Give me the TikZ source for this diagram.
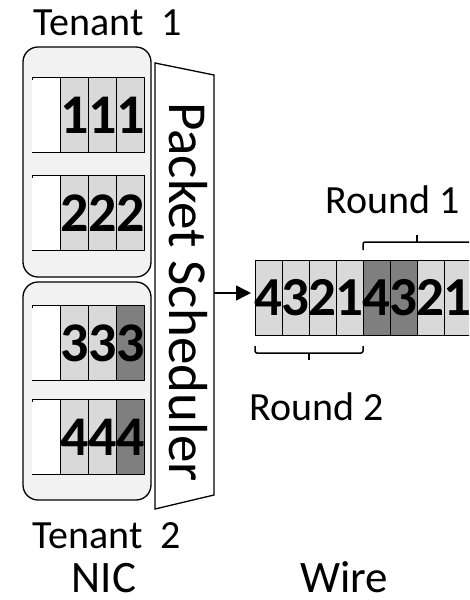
\documentclass[tikz,border=0pt]{standalone}
\usepackage{fontspec}
\setmainfont{Carlito}
\usetikzlibrary{arrows.meta}
\definecolor{tenantbg}{HTML}{F2F2F2}
\definecolor{pktlight}{HTML}{D9D9D9}
\definecolor{pktdark}{HTML}{7F7F7F}
\begin{document}
\begin{tikzpicture}[x=1pt,y=-1pt,line width=1.3pt,
  tenant/.style={draw,fill=tenantbg,rounded corners=15pt},
  qcell/.style={draw,line width=0.8pt,minimum width=28pt,minimum height=75pt,
    inner sep=0pt,anchor=north west},
  wcell/.style={draw,line width=0.8pt,minimum width=27pt,minimum height=75pt,
    inner sep=0pt,anchor=north west},
  qdigit/.style={inner sep=0pt,font=\fontsize{56}{56}\selectfont\bfseries},
  wdigit/.style={inner sep=0pt,font=\fontsize{55}{55}\selectfont\bfseries},
  lbl/.style={inner sep=0pt,font=\fontsize{40}{48}\selectfont},
  biglbl/.style={inner sep=0pt,font=\fontsize{45}{54}\selectfont},
  brace/.style={line width=1.5pt,rounded corners=2pt}]
\useasboundingbox (0,0) rectangle (469,600);
\clip (0,0) rectangle (469,600);

% tenant groups
\draw[tenant] (23,47) rectangle (151,277);
\draw[tenant] (23,282) rectangle (151,500);
\node[lbl,anchor=base west] (t1) at (33,35) {Tenant\ \ 1};
\node[lbl,anchor=base west] (t2) at (32,548) {Tenant\ \ 2};

% per-tenant queues: open white tail on the left, packets on the right
\foreach \q/\y/\d/\lastfill in {1/77/1/pktlight,2/175/2/pktlight,3/305/3/pktdark,4/399/4/pktdark}{
  \fill[white] (32,\y) rectangle (60,\y+75);
  \draw[line width=0.8pt] (32,\y+3) -- (32,\y) -- (60,\y);
  \draw[line width=0.8pt] (32,\y+75) -- (60,\y+75);
  \node[qcell,fill=pktlight,label={[qdigit]center:\d}] (q\q a) at (60,\y) {};
  \node[qcell,fill=pktlight,label={[qdigit]center:\d}] (q\q b) at (88,\y) {};
  \node[qcell,fill=\lastfill,label={[qdigit]center:\d}] (q\q c) at (116,\y) {};
}

% packet scheduler
\coordinate (sTL) at (155,63);
\coordinate (sTR) at (214,75);
\coordinate (sBR) at (214,495);
\coordinate (sBL) at (155,509);
\draw (sTL) -- (sTR) -- (sBR) -- (sBL) -- cycle;
\node[inner sep=0pt,rotate=-90,anchor=base,font=\fontsize{55}{55}\selectfont]
  (sched) at (169,292) {Packet Scheduler};
\coordinate (schedOut) at (214,293);

% packets on the wire (newest on the left)
\foreach \i/\x/\d/\c in {1/255/4/pktlight,2/282/3/pktlight,3/309/2/pktlight,4/336/1/pktlight,
                          5/363/4/pktdark,6/390/3/pktdark,7/417/2/pktlight,8/444/1/pktlight}{
  \node[wcell,fill=\c] (w\i) at (\x,260) {};
}
\foreach \i/\d in {1/4,2/3,3/2,4/1,5/4,6/3,7/2,8/1}{
  \node[wdigit] (d\i) at (w\i.center) {\d};
}

\draw[line width=1.5pt,-{Triangle[length=15pt,width=15pt]},shorten >=4pt]
  (schedOut) -- (schedOut -| w1.west);

% rounds
\draw[brace] (363,250) -- (363,242) -- (475,242) -- (475,250);
\draw[line width=1.5pt] (417,242) -- (417,235);
\node[lbl,anchor=base west] (r1) at (325,213) {Round 1};
\draw[brace] (255,346) -- (255,353) -- (363,353) -- (363,346);
\draw[line width=1.5pt] (309,353) -- (309,360);
\node[lbl,anchor=base west] (r2) at (249,420) {Round 2};

% section captions
\node[biglbl,anchor=base] (nic) at (104,592) {NIC};
\node[biglbl,anchor=base] (wire) at (344,592) {Wire};
\end{tikzpicture}
\end{document}
